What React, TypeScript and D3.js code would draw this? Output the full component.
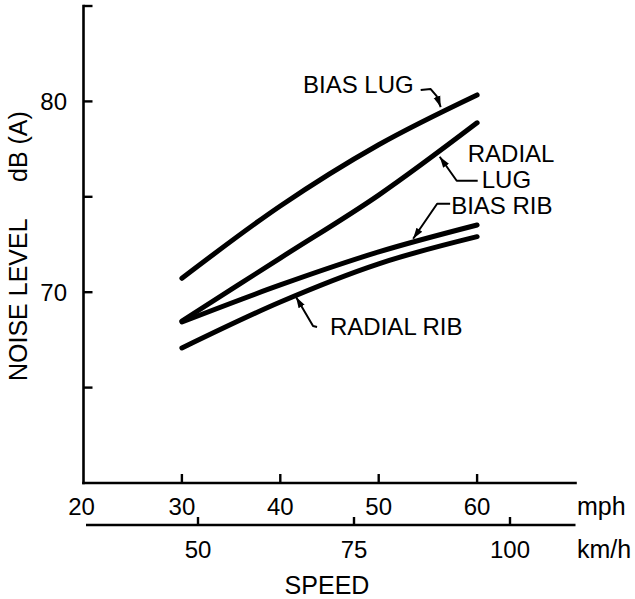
import React from 'react';
import * as d3 from 'd3';

// ---- data ----
const speedsMph = [30, 40, 50, 60];
const biasLug = [70.73, 74.52, 77.73, 80.34];
const radialLug = [68.49, 71.79, 75.09, 78.88];
const biasRib = [68.44, 70.38, 72.11, 73.52];
const radialRib = [67.08, 69.49, 71.49, 72.91];
const seriesNames = ['BIAS LUG', 'RADIAL LUG', 'BIAS RIB', 'RADIAL RIB'];

const mphTicks = [30, 40, 50, 60];
const mphLabels = [20, 30, 40, 50, 60];
const kmhTicks = [50, 75, 100];
const dbTicks = [65, 70, 75, 80, 85];
const dbLabels = [70, 80];

// annotation arrow tips (mph, dB)
const annoTipMph = [56.3, 56.2, 53.5, 41.6];
const annoTipDb = [79.65, 77.1, 72.8, 69.75];

const W = 635;
const H = 599;
const FONT = '"Liberation Sans", Arial, Helvetica, sans-serif';

export default function App() {
  const x = d3.scaleLinear().domain([20, 70]).range([83.5, 575.5]);
  const kmh = d3.scaleLinear().domain([50, 100]).range([198, 510]);
  const y = d3.scaleLinear().domain([60, 85]).range([483, 6]);

  const series = [biasLug, radialLug, biasRib, radialRib];
  const line = d3
    .line<[number, number]>()
    .x((d) => x(d[0]))
    .y((d) => y(d[1]))
    .curve(d3.curveMonotoneX);

  const yAxisX = x(20);
  const xAxisY = y(60);
  const kmhAxisY = 525;

  // label layout relative to arrow tips
  const anno = [
    { leader: [[-20, -18], [-10, -19], [-4, -12], [0, -1]], texts: [{ t: 'BIAS LUG', dx: -27, dy: -15, anchor: 'end' }] },
    { leader: [[38, 24], [17, 24], [0, 0]], texts: [{ t: 'RADIAL', dx: 28, dy: 5, anchor: 'start' }, { t: 'LUG', dx: 42, dy: 31, anchor: 'start' }] },
    { leader: [[37, -35], [24, -35], [0, 0]], texts: [{ t: 'BIAS RIB', dx: 38, dy: -25, anchor: 'start' }] },
    { leader: [[21, 30], [17, 29], [0, 0]], texts: [{ t: 'RADIAL RIB', dx: 34, dy: 38, anchor: 'start' }] },
  ];

  return (
    <svg
      width={W}
      height={H}
      style={{ position: 'absolute', left: 0, top: 0, background: '#fff' }}
      fontFamily={FONT}
    >
      <defs>
        <marker id="arr" markerUnits="userSpaceOnUse" markerWidth={12} markerHeight={9} refX={11} refY={4.5} orient="auto">
          <path d="M0,1 L11,4.5 L0,8 Z" fill="#000" />
        </marker>
      </defs>

      {/* Y axis */}
      <line x1={yAxisX} x2={yAxisX} y1={y(60)} y2={y(85)} stroke="#000" strokeWidth={2.6} strokeLinecap="square" />
      {dbTicks.map((t) => (
        <line key={t} x1={yAxisX} x2={yAxisX + 9} y1={y(t)} y2={y(t)} stroke="#000" strokeWidth={2.4} />
      ))}
      {dbLabels.map((t) => (
        <text key={t} x={67} y={y(t) + 8.5} textAnchor="end" fontSize={24}>{t}</text>
      ))}
      <text transform={`translate(27,381) rotate(-90)`} fontSize={25}>NOISE LEVEL</text>
      <text transform={`translate(27,182) rotate(-90)`} fontSize={25}>dB (A)</text>

      {/* mph axis */}
      <line x1={yAxisX} x2={x(70)} y1={xAxisY} y2={xAxisY} stroke="#000" strokeWidth={2.6} strokeLinecap="square" />
      {mphTicks.map((t) => (
        <line key={t} x1={x(t)} x2={x(t)} y1={xAxisY} y2={xAxisY - 9} stroke="#000" strokeWidth={2.4} />
      ))}
      {mphLabels.map((t) => (
        <text key={t} x={t === 20 ? x(t) - 2 : x(t)} y={515} textAnchor="middle" fontSize={24}>{t}</text>
      ))}
      <text x={577} y={515} fontSize={25}>mph</text>

      {/* km/h axis */}
      <line x1={yAxisX + 2.5} x2={x(70)} y1={kmhAxisY} y2={kmhAxisY} stroke="#000" strokeWidth={2.6} />
      {kmhTicks.map((t) => (
        <line key={t} x1={kmh(t)} x2={kmh(t)} y1={kmhAxisY} y2={kmhAxisY - 8} stroke="#000" strokeWidth={2.4} />
      ))}
      {kmhTicks.map((t) => (
        <text key={t} x={kmh(t)} y={558} textAnchor="middle" fontSize={24}>{t}</text>
      ))}
      <text x={577} y={558} fontSize={25}>km/h</text>
      <text x={327} y={594} textAnchor="middle" fontSize={25}>SPEED</text>

      {/* series */}
      {series.map((vals, i) => (
        <path
          key={seriesNames[i]}
          d={line(speedsMph.map((s, j) => [s, vals[j]] as [number, number])) || ''}
          fill="none"
          stroke="#000"
          strokeWidth={5}
          strokeLinecap="round"
        />
      ))}

      {/* annotations */}
      {anno.map((a, i) => {
        const tx = x(annoTipMph[i]);
        const ty = y(annoTipDb[i]);
        const pts = a.leader.map((p) => [tx + p[0], ty + p[1]]);
        return (
          <g key={seriesNames[i]}>
            <polyline
              points={pts.map((p) => p.join(',')).join(' ')}
              fill="none"
              stroke="#000"
              strokeWidth={2}
              strokeLinejoin="round"
              markerEnd="url(#arr)"
            />
            {a.texts.map((t) => (
              <text key={t.t} x={tx + t.dx} y={ty + t.dy} textAnchor={t.anchor as any} fontSize={24}>
                {t.t}
              </text>
            ))}
          </g>
        );
      })}
    </svg>
  );
}
